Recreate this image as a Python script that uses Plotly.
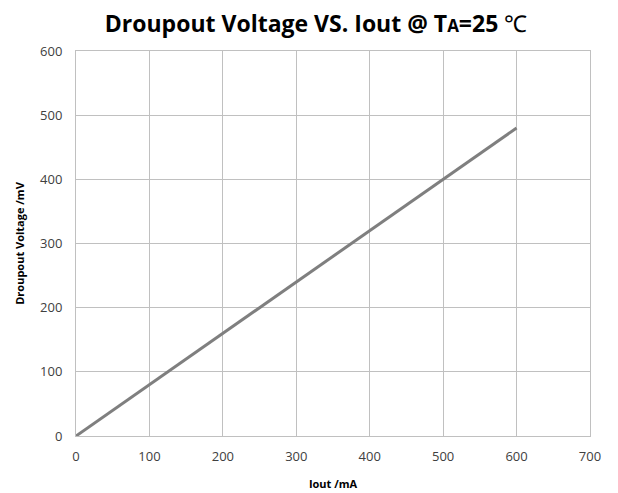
import plotly.graph_objects as go

iout_ma = [0, 100, 200, 300, 400, 500, 600]
dropout_mv = [0, 80, 160, 240, 320, 400, 480]
x_ticks = [0, 100, 200, 300, 400, 500, 600, 700]
y_ticks = [0, 100, 200, 300, 400, 500, 600]

fig = go.Figure()
fig.add_trace(go.Scatter(
    x=iout_ma, y=dropout_mv, mode="lines",
    line=dict(color="#7f7f7f", width=3),
    showlegend=False,
))

grid = "#c0c0c0"
fig.update_layout(
    width=610, height=485,
    margin=dict(l=68, r=28, t=43, b=57, autoexpand=False),
    paper_bgcolor="white", plot_bgcolor="white",
    font=dict(family="Open Sans, sans-serif", color="#404040"),
    title=dict(
        text='<b>Droupout Voltage VS. Iout @ T<span style="font-size:17px">A</span>=25</b> ℃',
        x=0.505, xanchor="center", y=0.967, yanchor="middle",
        font=dict(size=23, color="#000000", family="Open Sans, sans-serif"),
        automargin=False,
    ),
    xaxis=dict(
        range=[0, 700], tickvals=x_ticks, ticktext=[str(v) for v in x_ticks],
        showgrid=True, gridcolor=grid, gridwidth=1,
        showline=True, linecolor=grid, mirror=True, zeroline=False,
        ticks="outside", ticklen=8, tickcolor="rgba(0,0,0,0)",
        tickfont=dict(size=13, color="#404040"), automargin=False,
        title=dict(text="<b>Iout /mA</b>", font=dict(size=11, color="#000000"), standoff=16),
    ),
    yaxis=dict(
        range=[0, 600], tickvals=y_ticks, ticktext=[str(v) for v in y_ticks],
        showgrid=True, gridcolor=grid, gridwidth=1,
        showline=True, linecolor=grid, mirror=True, zeroline=False,
        ticks="outside", ticklen=10, tickcolor="rgba(0,0,0,0)",
        tickfont=dict(size=13, color="#404040"), automargin=False,
        title=dict(text="<b>Droupout Voltage /mV</b>", font=dict(size=11, color="#000000"), standoff=13),
    ),
)

fig.write_html("out.html")
